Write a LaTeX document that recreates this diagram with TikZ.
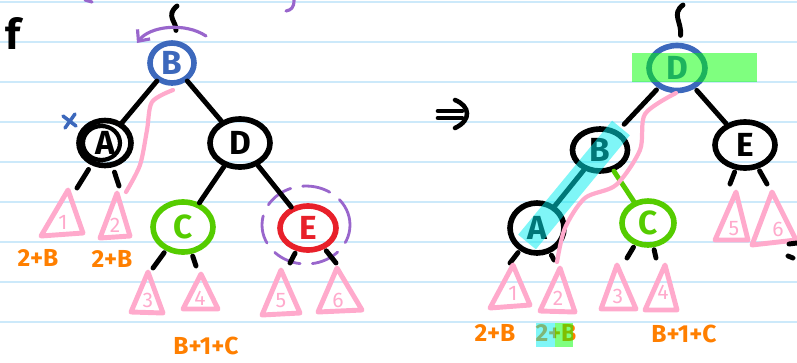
\documentclass[tikz,border=0pt]{standalone}
\usepackage{fontspec}
\setmainfont{Fira Sans}
\usetikzlibrary{shapes.geometric,arrows.meta}
\definecolor{inkblue}{HTML}{3C68BC}
\definecolor{inkgreen}{HTML}{55CC00}
\definecolor{inkred}{HTML}{E8202A}
\definecolor{inkpink}{HTML}{FFAACC}
\definecolor{inkorange}{HTML}{FF7F00}
\definecolor{inkpurple}{HTML}{9966CC}
\definecolor{ruleblue}{HTML}{CCE9FA}
\definecolor{hlcyan}{RGB}{0,238,240}
\definecolor{hlgreen}{RGB}{0,255,0}

\begin{document}
\begin{tikzpicture}[x=0.02cm, y=-0.02cm, line cap=round, line join=round,
  treenode/.style={ellipse, line width=3.2pt, inner sep=0pt, font=\fontsize{19}{22}\selectfont\bfseries},
  branch/.style={line width=2.8pt},
  subtree/.style={draw=inkpink, line width=2.8pt},
  subnum/.style={text=inkpink, font=\fontsize{12}{14}\selectfont},
  count/.style={text=inkorange, font=\fontsize{14}{16}\selectfont\bfseries},
  ruled/.style={draw=ruleblue, line width=0.8pt},
  marker/.style={line width=0.46cm, opacity=0.5, line cap=butt}]

\useasboundingbox (0,0) rectangle (797,362);
\foreach \y in {2,42,...,322} \draw[ruled] (0,\y) -- (797,\y);

% before the rotation
\node[font=\fontsize{24}{26}\selectfont\bfseries] (fmark) at (13,33) {f};
\draw[inkpurple, line width=1.8pt] (85,0) -- (92,2);
\draw[inkpurple, line width=1.8pt] (294,0) .. controls (294,8) and (291,10) .. (286,11);

\node[treenode, draw=inkblue, text=inkblue, minimum width=0.88cm, minimum height=0.8cm] (B) at (172,63) {B};
\node[treenode, draw=black, minimum width=1.04cm, minimum height=0.9cm] (A) at (105,143) {A};
\draw[line width=2.4pt] ([xshift=-2pt]A.center) ellipse (0.37cm and 0.34cm);
\node[treenode, draw=black, minimum width=1.2cm, minimum height=0.96cm] (D) at (240,143) {D};
\node[treenode, draw=inkgreen, text=inkgreen, minimum width=1.2cm, minimum height=1.0cm] (C) at (183,227) {C};
\node[treenode, draw=inkred, text=inkred, minimum width=1.12cm, minimum height=0.88cm] (E) at (308,228) {E};
\draw[inkpurple, line width=1.6pt, dash pattern=on 16pt off 7pt] (306,225) ellipse (0.88cm and 0.78cm);

\coordinate (topL) at (177,6);
\draw[branch, shorten >=0.2cm] (topL) .. controls (165,16) and (177,22) .. (B);
\draw[inkpurple, line width=1.8pt, -{Straight Barb[length=5pt,width=9pt]}] (206,36) .. controls (185,22) and (150,26) .. (137,43);
\draw[branch] (B) -- (A);
\draw[branch] (B) -- (D);
\draw[branch] (D) -- (C);
\draw[branch] (D) -- (E);
\draw[inkblue, line width=2pt] (63,116) -- (76,126) (75,114) -- (65,128);

\coordinate (a1) at (77,188);
\coordinate (a2) at (119,186);
\coordinate (c3) at (153,268);
\coordinate (c4) at (196,266);
\coordinate (e5) at (290,263);
\coordinate (e6) at (336,263);
\draw[branch, shorten <=0.1cm] (A) -- (a1);
\draw[branch, shorten <=0.1cm] (A) -- (a2);
\draw[branch, shorten <=0.05cm] (C) -- (c3);
\draw[branch, shorten <=0.05cm] (C) -- (c4);
\draw[branch, shorten <=0.05cm] (E) -- (e5);
\draw[branch, shorten <=0.05cm] (E) -- (e6);

\draw[subtree, line width=2.4pt] plot[smooth] coordinates {(173,90) (152,102) (147,130) (140,165) (126,192)};
\draw[subtree] (68,190) -- (41,236) -- (83,233) -- cycle;
\draw[subtree] (117,193) -- (100,238) -- (130,236) -- cycle;
\draw[subtree] (148,272) -- (131,312) -- (163,313) -- cycle;
\draw[subtree] (201,274) -- (183,309) -- (218,309) -- cycle;
\draw[subtree] (281,270) -- (262,315) -- (300,313) -- cycle;
\draw[subtree] (337,268) -- (318,312) -- (362,310) -- cycle;
\node[subnum] (n1) at (63,222) {1};
\node[subnum] (n2) at (115,225) {2};
\node[subnum] (n3) at (148,300) {3};
\node[subnum] (n4) at (200,298) {4};
\node[subnum] (n5) at (281,301) {5};
\node[subnum] (n6) at (338,300) {6};
\node[count] (w1) at (38,258) {2+B};
\node[count] (w2) at (112,259) {2+B};
\node[count] (w3) at (206,346) {B+1+C};

% arrow
\draw[line width=2.6pt] (438,111) -- (462,111) (438,118) -- (462,118);
\draw[line width=2.6pt] (455,100) .. controls (470,106) and (472,120) .. (455,128);

% after the rotation
\node[treenode, draw=inkblue, text=inkblue, minimum width=1.12cm, minimum height=0.9cm] (D2) at (677,68) {D};
\node[treenode, draw=black, minimum width=1.1cm, minimum height=0.84cm] (B2) at (600,150) {B};
\node[treenode, draw=black, minimum width=1.08cm, minimum height=1.0cm] (A2) at (537,228) {A};
\node[treenode, draw=inkgreen, text=inkgreen, minimum width=1.04cm, minimum height=0.88cm] (C2) at (648,223) {C};
\node[treenode, draw=black, minimum width=1.2cm, minimum height=0.92cm] (E2) at (745,145) {E};

\coordinate (topR) at (683,5);
\draw[branch, shorten >=0.15cm] (topR) .. controls (671,14) and (682,22) .. (D2);
\draw[branch, shorten <=0.05cm, shorten >=0.18cm] (D2) -- (B2);
\draw[branch, shorten <=0.05cm] (D2) -- (E2);
\draw[branch] (B2) -- (A2);
\draw[branch, draw=inkgreen] (B2) -- (C2);

\coordinate (a1r) at (510,263);
\coordinate (a2r) at (554,260);
\coordinate (c3r) at (627,258);
\coordinate (c4r) at (656,258);
\coordinate (e5r) at (730,184);
\coordinate (e6r) at (767,184);
\draw[branch, shorten <=0.05cm] (A2) -- (a1r);
\draw[branch, shorten <=0.05cm] (A2) -- (a2r);
\draw[branch, shorten <=0.05cm] (C2) -- (c3r);
\draw[branch, shorten <=0.05cm] (C2) -- (c4r);
\draw[branch, shorten <=0.05cm] (E2) -- (e5r);
\draw[branch, shorten <=0.05cm] (E2) -- (e6r);

\draw[subtree, line width=2.4pt] plot[smooth] coordinates {(676,93) (645,114) (640,150) (616,185) (585,198) (565,228) (557,262)};
\draw[subtree] (513,265) -- (490,308) -- (530,305) -- cycle;
\draw[subtree] (560,268) -- (540,311) -- (575,312) -- cycle;
\draw[subtree] (617,265) -- (601,309) -- (636,309) -- cycle;
\draw[subtree] (665,265) -- (645,310) -- (677,310) -- cycle;
\draw[subtree] (736,192) -- (715,240) -- (748,240) -- cycle;
\draw[subtree] (772,192) -- (752,245) -- (796,240) -- cycle;
\node[subnum] (m1) at (513,293) {1};
\node[subnum] (m2) at (558,298) {2};
\node[subnum] (m3) at (618,296) {3};
\node[subnum] (m4) at (663,292) {4};
\node[subnum] (m5) at (734,229) {5};
\node[subnum] (m6) at (778,229) {6};
\draw[branch] (789,244) -- (797,243) (788,256) -- (793,258);

\node[count] (v1) at (495,333) {2+B};
\node[count] (v2) at (556,333) {2+B};
\node[count] (v3) at (684,334) {B+1+C};

% highlighter
\draw[marker, draw=hlcyan] (621,128) -- (527,242);
\fill[hlgreen, opacity=0.5] (632,53) rectangle (757,82);
\fill[hlcyan, opacity=0.5] (536,323) rectangle (555,347);
\fill[hlgreen, opacity=0.5] (555,323) rectangle (573,347);
\end{tikzpicture}
\end{document}
